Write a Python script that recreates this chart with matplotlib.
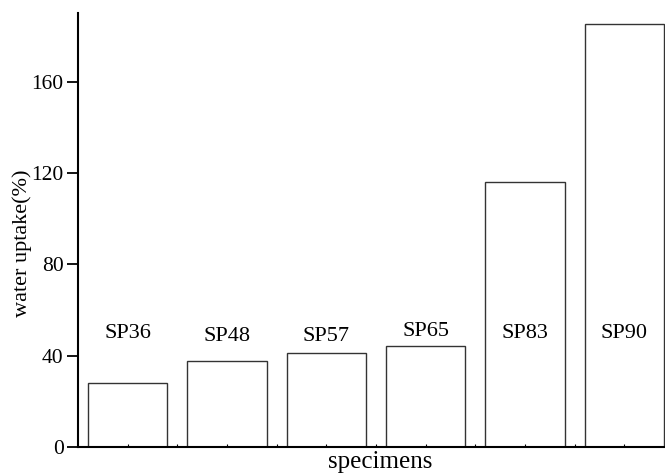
import numpy as np
import matplotlib.pyplot as plt

specimens = ["SP36", "SP48", "SP57", "SP65", "SP83", "SP90"]
uptake = [28.1, 37.6, 41.0, 44.1, 115.9, 185.2]
label_y = [49.7, 48.5, 48.2, 50.4, 49.7, 49.7]

plt.rcParams['font.family'] = ['Liberation Serif', 'DejaVu Serif']

fig = plt.figure(figsize=(6.65, 4.73), dpi=100)
ax = fig.add_axes([77.5/665, 26/473, 587.5/665, 434/473])

x = np.arange(len(specimens))
ax.bar(x, uptake, width=0.80, facecolor='white', edgecolor='#333333', linewidth=1.0)
for i in range(len(specimens)):
    ax.text(x[i], label_y[i], specimens[i], ha='center', va='center', fontsize=16)

ax.set_xlim(-0.505, 5.41)
ax.set_ylim(0, 190)
ax.set_yticks([0, 40, 80, 120, 160])
ax.tick_params(axis='y', labelsize=15.5, length=8, width=1.3, direction='out', pad=2)
ax.set_xticks(x)
ax.set_xticks(x[:-1] + 0.5, minor=True)
ax.set_xticklabels([])
ax.tick_params(axis='x', which='both', length=2, width=0.8, direction='in')
ax.spines['top'].set_visible(False)
ax.spines['right'].set_visible(False)
ax.spines['left'].set_linewidth(1.5)
ax.spines['bottom'].set_linewidth(1.5)
ax.set_xlabel("specimens", fontsize=18, labelpad=0)
ax.xaxis.set_label_coords(0.515, -0.01)
ax.xaxis.label.set_va('top')
ax.set_ylabel("water uptake(%)", fontsize=16)
ax.yaxis.set_label_coords(-0.077, 0.47)

fig.savefig("out.png", dpi=100)
